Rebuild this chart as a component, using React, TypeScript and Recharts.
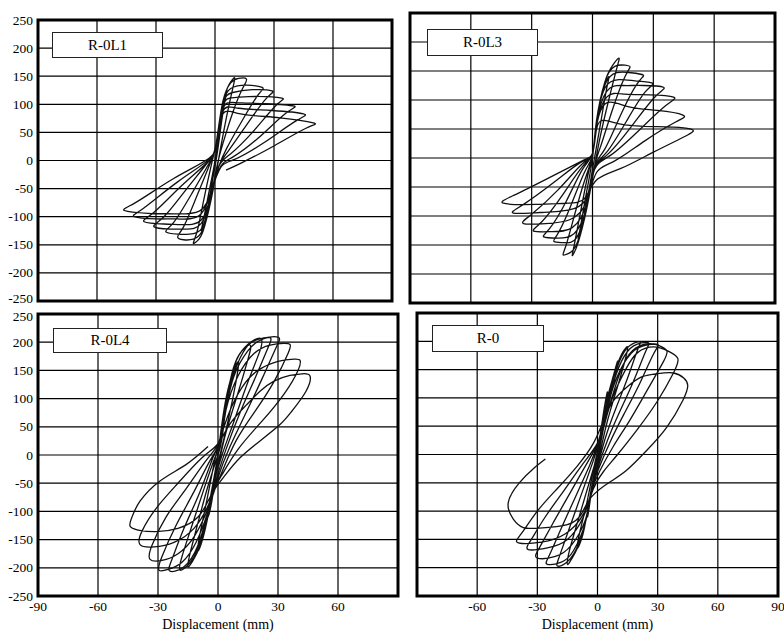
import React from "react";
import { LineChart, Line, XAxis, YAxis, CartesianGrid, ReferenceArea, Label } from "recharts";

type Pt = [number, number];

// axis ticks (mm / kN)
const xTicks = [-90, -60, -30, 0, 30, 60, 90];
const yTicks = [-250, -200, -150, -100, -50, 0, 50, 100, 150, 200, 250];

const specimenNames = ["R-0L1", "R-0L3", "R-0L4", "R-0"];

// load-displacement traces, cycle by cycle
const r0l1Curve: Pt[] = [
  [0, 0],
  [2, 50], [4, 100], [6, 125], [5, 105], [3, 60], [1, 10],
  [-2, -50], [-5, -105], [-7, -125], [-6, -108], [-3, -55], [0, 0],
  [2, 55], [5, 115], [8, 140], [10, 147], [9, 128], [6, 80], [3, 25], [1, -15],
  [-2, -70], [-6, -125], [-9, -143], [-11, -147], [-9, -125], [-6, -75], [-2, -10],
  [1, 40], [4, 105], [8, 138], [12, 146], [16, 145], [14, 128], [9, 85], [4, 30], [1, -10],
  [-2, -65], [-6, -122], [-11, -140], [-16, -141], [-19, -136], [-16, -118], [-10, -70], [-3, -10],
  [1, 35], [4, 100], [8, 128], [16, 134], [24, 130], [22, 117], [14, 72], [6, 22], [2, -10],
  [-2, -60], [-6, -117], [-13, -131], [-19, -131], [-25, -127], [-21, -110], [-12, -60], [-3, -5],
  [1, 35], [4, 100], [9, 121], [19, 126], [29, 124], [26, 110], [16, 63], [7, 18], [2, -10],
  [-2, -60], [-7, -112], [-15, -122], [-23, -122], [-31, -118], [-26, -100], [-15, -53], [-3, 0],
  [1, 35], [4, 97], [10, 112], [22, 114], [34, 111], [31, 98], [19, 50], [8, 12], [2, -10],
  [-2, -58], [-7, -106], [-17, -114], [-26, -113], [-36, -109], [-31, -92], [-17, -45], [-3, 0],
  [1, 35], [4, 92], [11, 103], [26, 101], [40, 97], [36, 84], [22, 40], [9, 6], [3, -10],
  [-2, -55], [-8, -98], [-19, -104], [-30, -104], [-41, -100], [-36, -84], [-19, -38], [-3, 2],
  [1, 35], [4, 88], [12, 93], [29, 89], [45, 83], [41, 70], [25, 32], [10, 2], [3, -12],
  [-2, -55], [-8, -90], [-21, -95], [-34, -94], [-46, -89], [-40, -74], [-21, -32], [-3, 4],
  [1, 35], [4, 83], [13, 83], [33, 76], [50, 67], [46, 57], [29, 24], [13, -5], [5.6, -17],
];

const r0l3Curve: Pt[] = [
  [0, 0],
  [2, 60], [5, 115], [8, 140], [7, 120], [4, 60], [1, 0],
  [-2, -60], [-5, -115], [-7, -140], [-6, -120], [-3, -60], [0, 0],
  [2, 65], [6, 130], [10, 160], [13, 172], [12, 155], [8, 100], [4, 40], [1, -15],
  [-3, -90], [-7, -145], [-9, -163], [-10, -168], [-9, -150], [-6, -95], [-2, -25], [0, 5],
  [2, 60], [6, 130], [11, 158], [16, 160], [18.5, 157], [16, 140], [10, 85], [4, 20], [1, -15],
  [-3, -90], [-8, -150], [-12, -165], [-14.5, -167], [-13, -150], [-9, -100], [-4, -40], [0, 5],
  [2, 60], [6, 125], [12, 147], [19, 147], [25, 143], [22, 128], [14, 75], [6, 15], [1, -15],
  [-3, -85], [-8, -138], [-14, -146], [-19, -144], [-17, -130], [-11, -85], [-4, -25], [0, 5],
  [2, 60], [6, 120], [13, 135], [21, 133], [29.5, 129], [26, 114], [17, 65], [7, 10], [1, -18],
  [-3, -85], [-9, -130], [-17, -138], [-24, -136], [-21, -121], [-13, -75], [-5, -20], [0, 8],
  [2, 60], [7, 115], [15, 125], [25, 125], [35, 122], [31, 106], [20, 58], [8, 8], [1, -20],
  [-3, -80], [-10, -120], [-20, -127], [-29, -126], [-25, -110], [-15, -65], [-5, -15], [0, 8],
  [2, 55], [7, 105], [16, 110], [28, 109], [40, 105], [36, 90], [23, 48], [9, 5], [1, -20],
  [-3, -75], [-11, -106], [-23, -113], [-34, -113], [-30, -97], [-17, -55], [-5, -10], [0, 8],
  [2, 55], [7, 95], [18, 88], [32, 82], [44.6, 74], [41, 62], [26, 30], [11, -5], [2, -25],
  [-3, -70], [-12, -90], [-26, -94], [-39, -95], [-34, -80], [-19, -42], [-6, -8], [0, 8],
  [2, 50], [6, 65], [16, 57], [32, 54], [45, 52], [49.6, 48], [46, 38], [30, 10], [14, -18], [2, -38],
  [-4, -70], [-13, -78], [-28, -80], [-44, -78], [-38, -63], [-22, -35], [-8, -10], [-1, 2],
];

const r0l4Curve: Pt[] = [
  [0, 0],
  [2, 50], [5, 110], [4, 80], [1, 20], [-1, -30],
  [-3, -80], [-5, -110], [-4, -80], [-1, -20], [1, 30],
  [3, 80], [6, 130], [10, 165], [9, 130], [5, 60], [1, 0], [-2, -50],
  [-4, -90], [-7, -140], [-10, -170], [-9, -140], [-5, -70], [-1, 0], [2, 40],
  [4, 90], [7, 145], [11, 180], [16, 195], [15, 170], [10, 110], [4, 40], [0, -20], [-3, -60],
  [-5, -100], [-9, -160], [-13, -190], [-15, -198], [-14, -175], [-10, -120], [-5, -55], [0, 0], [2, 30],
  [4, 85], [7, 145], [12, 185], [18, 204], [21.6, 206], [21, 185], [15, 130], [8, 60], [2, 0], [-2, -50],
  [-5, -100], [-10, -165], [-15, -195], [-19, -204], [-18, -180], [-13, -125], [-7, -60], [-1, 0], [2, 30],
  [4, 85], [8, 145], [14, 190], [20, 205], [26, 208], [25, 190], [19, 140], [11, 75], [4, 10], [-1, -45],
  [-5, -100], [-10, -160], [-17, -198], [-24, -206], [-23, -185], [-17, -130], [-9, -65], [-2, 0], [1, 25],
  [4, 80], [8, 140], [15, 185], [22, 205], [30, 209], [29, 190], [22, 135], [14, 75], [6, 15], [0, -40],
  [-5, -100], [-11, -155], [-18, -190], [-25, -203], [-29.5, -204], [-28, -180], [-21, -125], [-12, -65], [-4, -10], [1, 25],
  [4, 80], [10, 140], [18, 180], [26, 195], [33, 198], [36, 196], [35, 180], [28, 130], [19, 80], [9, 25], [2, -30], [-1, -55],
  [-5, -95], [-12, -145], [-20, -175], [-28, -187], [-34, -185], [-33, -160], [-26, -110], [-16, -60], [-6, -10], [0, 20],
  [5, 70], [12, 120], [20, 150], [30, 166], [38, 170], [41, 168], [40, 150], [33, 108], [22, 60], [10, 10], [2, -35], [-1, -55],
  [-5, -90], [-12, -130], [-22, -155], [-32, -163], [-39, -159], [-38, -135], [-31, -95], [-20, -50], [-8, -5], [0, 20],
  [6, 55], [14, 88], [21, 113], [28, 131], [36, 141], [42, 144], [46, 140], [44, 113], [37, 78], [31, 54], [21, 25], [11, -5], [4, -34], [0, -52],
  [-4, -75], [-10, -110], [-20, -130], [-31, -136], [-40, -133], [-44, -126], [-43, -110], [-39, -82], [-29, -46], [-16, -17], [-5, 15],
];

const r0Curve: Pt[] = [
  [0, 0],
  [2, 50], [4, 95], [5, 110], [4, 80], [1, 20], [-2, -40],
  [-4, -90], [-5, -110], [-4, -80], [-1, -20], [2, 40],
  [5, 100], [8, 140], [10, 165], [9, 140], [5, 80], [1, 10], [-3, -60],
  [-6, -120], [-8, -150], [-10, -165], [-9, -140], [-5, -80], [-1, -10], [3, 50],
  [6, 110], [10, 160], [13, 183], [15, 190], [14, 170], [10, 120], [5, 60], [1, 0], [-3, -60],
  [-6, -120], [-10, -165], [-13, -185], [-15, -194], [-14, -170], [-10, -120], [-5, -60], [0, 0], [3, 50],
  [6, 110], [11, 165], [16, 192], [21, 199], [20, 185], [15, 135], [9, 80], [4, 30], [0, -20], [-3, -60],
  [-6, -120], [-11, -170], [-16, -192], [-20, -197], [-19, -180], [-14, -130], [-8, -70], [-2, -10], [2, 40],
  [7, 115], [12, 165], [18, 192], [25, 198], [24, 182], [18, 130], [11, 75], [5, 25], [0, -25], [-3, -65],
  [-6, -120], [-12, -170], [-18, -190], [-25, -194], [-24, -178], [-18, -130], [-11, -75], [-4, -20], [1, 30],
  [7, 110], [13, 160], [20, 188], [29.5, 195], [28, 178], [21, 125], [13, 70], [6, 20], [0, -30], [-3, -65],
  [-6, -115], [-13, -160], [-21, -180], [-30, -183], [-29, -165], [-22, -120], [-14, -70], [-6, -20], [1, 25],
  [4, 60], [8, 110], [13, 160], [19, 188], [26, 196], [31, 192], [34.5, 184], [33, 165], [25, 115], [16, 60], [8, 15], [1, -30], [-3, -65],
  [-7, -110], [-15, -150], [-25, -165], [-34.5, -168], [-33, -150], [-26, -110], [-17, -65], [-8, -20], [0, 20],
  [4, 60], [8, 105], [14, 150], [20, 180], [28, 190], [35, 183], [40, 170], [38, 145], [30, 95], [20, 45], [10, 0], [3, -30], [-2, -60],
  [-7, -105], [-16, -140], [-28, -155], [-39.5, -156], [-38, -140], [-30, -100], [-20, -60], [-10, -20], [-2, 20],
  [3, 60], [8, 95], [15, 120], [22, 137], [30, 143], [38, 144], [43, 135], [45, 122], [42.6, 96], [34.5, 48], [24.5, 7], [14.5, -28], [6, -49],
  [-3, -75], [-8, -105], [-15, -124], [-29, -130], [-37, -129], [-42, -114], [-44.5, -85], [-39, -50], [-32, -25], [-26, -8],
];

const curves = [r0l1Curve, r0l3Curve, r0l4Curve, r0Curve];

const serif = "'Liberation Serif', 'Times New Roman', Times, serif";
const textStyle = { fontFamily: serif, fontSize: 13.5 };

// edgeY/edgeDy: nudge for the outermost y label so the stacked panels' labels don't collide
const panels = [
  { left: 0, top: 0, width: 400, height: 310, margin: { top: 20, right: 8, bottom: 9, left: 0 }, showY: true, showX: false, skipX: null as number | null, edgeY: -250, edgeDy: "0.12em", box: { left: 52, top: 32, width: 111, height: 26 } },
  { left: 400, top: 0, width: 384, height: 310, margin: { top: 13, right: 9, bottom: 7, left: 10 }, showY: false, showX: false, skipX: null, edgeY: null as number | null, edgeDy: "", box: { left: 427, top: 29, width: 111, height: 27 } },
  { left: 0, top: 300, width: 410, height: 332, margin: { top: 14, right: 12, bottom: 0, left: 0 }, showY: true, showX: true, skipX: 90, edgeY: 250, edgeDy: "0.52em", box: { left: 53, top: 328, width: 114, height: 25 } },
  { left: 400, top: 300, width: 384, height: 332, margin: { top: 13, right: 6, bottom: 0, left: 17 }, showY: false, showX: true, skipX: -90, edgeY: null, edgeDy: "", box: { left: 432, top: 325, width: 112, height: 27 } },
];

function makeYTick(edge: number | null, edgeDy: string) {
  return (props: any) => {
    const { x, y, payload } = props;
    return (
      <text x={x} y={y} dy={payload.value === edge ? edgeDy : "0.34em"} textAnchor="end" fill="#000" style={textStyle}>
        {payload.value}
      </text>
    );
  };
}

function makeXTick(skip: number | null) {
  return (props: any) => {
    const { x, y, payload } = props;
    if (payload.value === skip) return <g />;
    return (
      <text x={x} y={y} dy="0.89em" textAnchor="middle" fill="#000" style={textStyle}>
        {payload.value}
      </text>
    );
  };
}

function AxisTitle(props: any) {
  const vb = props.viewBox || {};
  return (
    <text
      x={vb.x + vb.width / 2}
      y={vb.y + vb.height - 3.5}
      textAnchor="middle"
      fill="#000"
      style={{ fontFamily: serif, fontSize: 14 }}
    >
      Displacement (mm)
    </text>
  );
}

function Panel({ idx }: { idx: number }) {
  const p = panels[idx];
  const data = curves[idx].map(([x, y]) => ({ x, y }));
  return (
    <>
      <div style={{ position: "absolute", left: p.left, top: p.top }}>
        <LineChart width={p.width} height={p.height} margin={p.margin}>
          <CartesianGrid stroke="#000" strokeWidth={1.2} />
          <XAxis
            type="number"
            dataKey="x"
            domain={[-90, 90]}
            ticks={xTicks}
            hide={!p.showX}
            height={36}
            axisLine={false}
            tickLine={false}
            tickSize={0}
            tickMargin={3}
            tick={makeXTick(p.skipX)}
            interval={0}
          >
            <Label content={AxisTitle} position="insideBottom" />
          </XAxis>
          <YAxis
            type="number"
            domain={[-250, 250]}
            ticks={yTicks}
            hide={!p.showY}
            width={38}
            axisLine={false}
            tickLine={false}
            tickSize={0}
            tickMargin={5}
            tick={makeYTick(p.edgeY, p.edgeDy)}
            interval={0}
          />
          <Line
            data={data}
            dataKey="y"
            type="natural"
            stroke="#111"
            strokeWidth={1.3}
            dot={false}
            isAnimationActive={false}
          />
          <ReferenceArea x1={-90} x2={90} y1={-250} y2={250} fill="none" stroke="#000" strokeWidth={3} />
        </LineChart>
      </div>
      <div
        style={{
          position: "absolute",
          ...p.box,
          boxSizing: "border-box",
          border: "1px solid #222",
          background: "#fff",
          display: "flex",
          alignItems: "center",
          justifyContent: "center",
          fontFamily: serif,
          fontSize: 15,
          color: "#000",
        }}
      >
        {specimenNames[idx]}
      </div>
    </>
  );
}

export default function App() {
  return (
    <div style={{ position: "absolute", left: 0, top: 0, width: 784, height: 632, background: "#fff", overflow: "hidden" }}>
      {panels.map((_, i) => (
        <Panel key={i} idx={i} />
      ))}
    </div>
  );
}
